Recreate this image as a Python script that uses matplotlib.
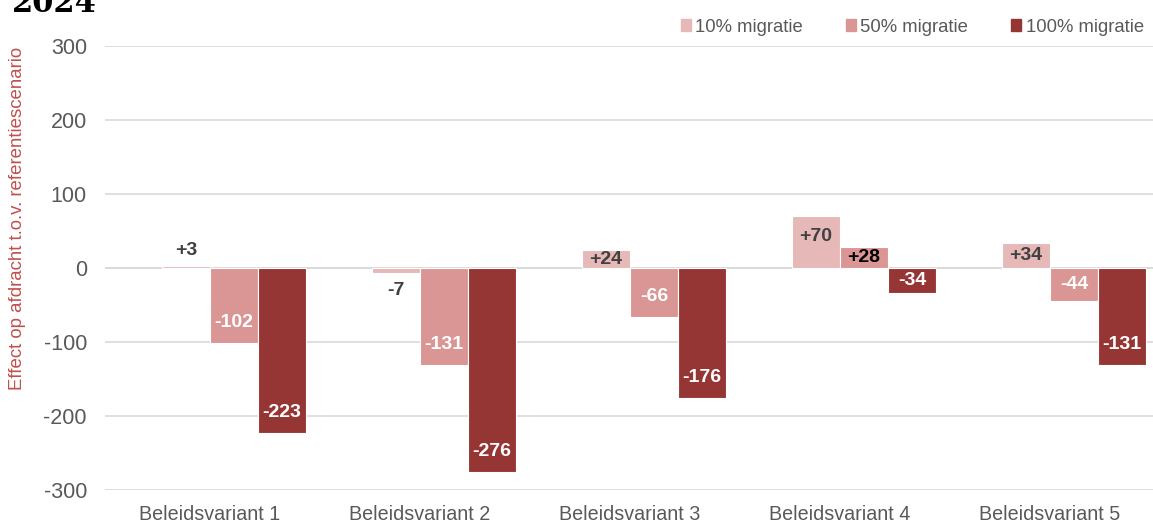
#!/usr/bin/env python3
"""
Effect per beleidsvariant bij verschillende migratiescenario's (2024).
"""

import numpy as np
import matplotlib.pyplot as plt
from matplotlib.patches import Patch

plt.rcParams['font.family'] = ['Liberation Sans', 'DejaVu Sans']

categories = ['Beleidsvariant 1', 'Beleidsvariant 2', 'Beleidsvariant 3',
              'Beleidsvariant 4', 'Beleidsvariant 5']
series_names = ['10% migratie', '50% migratie', '100% migratie']
mig_10 = [3, -7, 24, 70, 34]
mig_50 = [-102, -131, -66, 28, -44]
mig_100 = [-223, -276, -176, -34, -131]
yticks = [-300, -200, -100, 0, 100, 200, 300]

colors = ['#E6B8B7', '#DA9694', '#963634']
# label colour per series, per category
label_colors = [
    ['#404040', '#404040', '#404040', '#404040', '#404040'],
    ['white', 'white', 'white', 'black', 'white'],
    ['white', 'white', 'white', 'white', 'white'],
]

fig = plt.figure(figsize=(11.53, 5.23), dpi=100)
ax = fig.add_axes([105 / 1153, 33 / 523, 1050 / 1153, 444 / 523])

x = np.arange(len(categories))
width = 0.2286
# Excel layout leaves room for a fourth (empty) slot, so groups sit right of centre
offsets = [-0.5 * width, 0.5 * width, 1.5 * width]

for s, (vals, off) in enumerate(zip([mig_10, mig_50, mig_100], offsets)):
    ax.bar(x + off, vals, width, color=colors[s], edgecolor='white',
           linewidth=0.8, zorder=3)
    for i, v in enumerate(vals):
        txt = f'+{v}' if v > 0 else f'{v}'
        if abs(v) < 15:
            # small bars: label outside the bar
            y = v + (20 if v > 0 else -23)
            col = '#404040'
        elif abs(v) < 45:
            y = v / 2
            col = label_colors[s][i]
        else:
            y = v - 28 if v > 0 else v + 28
            col = label_colors[s][i]
        ax.text(x[i] + off, y, txt, ha='center', va='center',
                fontsize=14, fontweight='bold', color=col, zorder=4)

ax.set_xlim(-0.5, 4.5)
ax.set_ylim(-300, 300)
ax.set_yticks(yticks)
ax.set_yticklabels([str(t) for t in yticks])
ax.set_xticks(x)
ax.set_xticklabels(categories)
ax.grid(True, axis='y', color='#D9D9D9', linewidth=1.2, zorder=0)
ax.axhline(0, color='#D9D9D9', linewidth=1.2, zorder=2)
for sp in ax.spines.values():
    sp.set_visible(False)
ax.tick_params(axis='both', length=0, colors='#595959')
ax.tick_params(axis='y', pad=13, labelsize=15.5)
ax.tick_params(axis='x', pad=11, labelsize=14.2)

fig.text(18 / 1153, 1 - 218 / 523, 'Effect op afdracht t.o.v. referentiescenario',
         rotation=90, ha='center', va='center', fontsize=13.4, color='#C0504D')

fig.text(12 / 1153, 1 - 12 / 523, '2024', ha='left', va='baseline',
         fontsize=22, fontweight='bold', family='DejaVu Serif')

handles = [Patch(color=c, label=n) for c, n in zip(colors, series_names)]
fig.legend(handles=handles, ncol=3, loc='center right',
           bbox_to_anchor=(1.0, 1 - 27 / 523), frameon=False, fontsize=13.3,
           handlelength=0.55, handleheight=0.55, handletextpad=0.25,
           columnspacing=2.3, labelcolor='#595959', borderaxespad=0.1)

plt.savefig('out.png', dpi=100)
plt.close()
